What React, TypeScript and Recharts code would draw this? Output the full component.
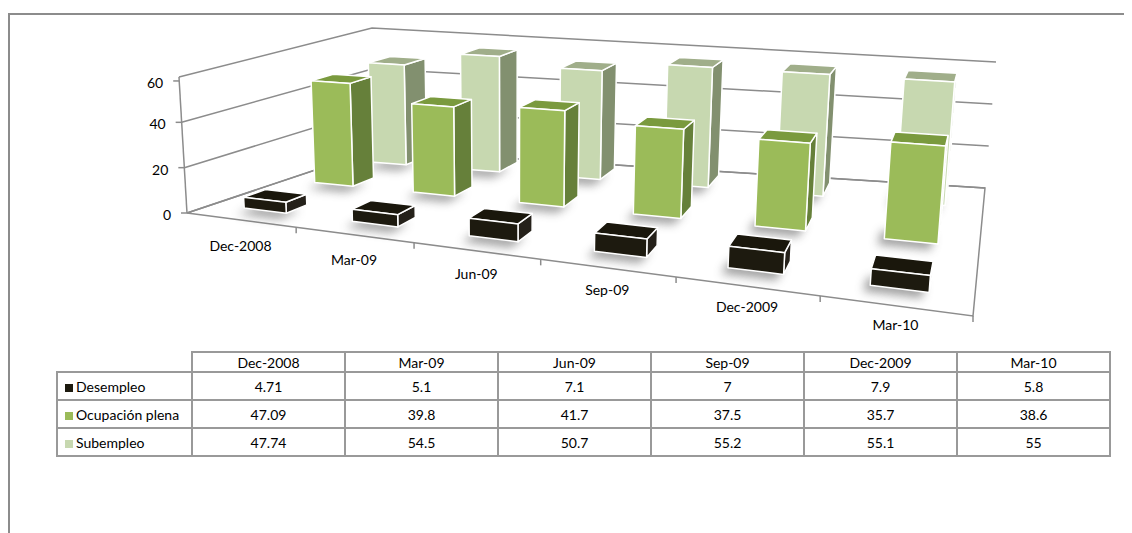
import React from 'react'
import { BarChart, Bar, XAxis, YAxis, CartesianGrid } from 'recharts'

const CATS = ['Dec-2008', 'Mar-09', 'Jun-09', 'Sep-09', 'Dec-2009', 'Mar-10']
const DESEMPLEO = [4.71, 5.1, 7.1, 7, 7.9, 5.8]
const OCUPACION = [47.09, 39.8, 41.7, 37.5, 35.7, 38.6]
const SUBEMPLEO = [47.74, 54.5, 50.7, 55.2, 55.1, 55]
const Y_TICKS = [0, 20, 40, 60]

const SERIES = [
  { key: 'des', name: 'Desempleo', values: DESEMPLEO, front: '#1d1a0f', side: '#25211a', top: '#1a170c', swatch: '#1d1a0f' },
  { key: 'ocu', name: 'Ocupación plena', values: OCUPACION, front: '#9bbb59', side: '#66803a', top: '#7a9a3e', swatch: '#9bbb59' },
  { key: 'sub', name: 'Subempleo', values: SUBEMPLEO, front: '#c7d8b0', side: '#82906f', top: '#a0ae8a', swatch: '#c7d8b0' },
]

const data = CATS.map((cat, i) => ({
  cat,
  des: DESEMPLEO[i],
  ocu: OCUPACION[i],
  sub: SUBEMPLEO[i],
}))

// chart box and the flat plot area recharts works in
const CW = 1110
const CH = 340
const YW = 40
const XH = 30
const PL = YW
const PT = 0
const PW = CW - YW
const PH = CH - XH
const PB = PT + PH

// 3d floor (svg coords): front-left, front-right, back-right, back-left
const FL = [179, 205]
const FR = [965, 308]
const BR = [977, 180]
const BL = [367, 142]
// pixel height of the full 0..60 range at each floor corner
const HFL = 136
const HFR = 185
const HBL = 122
const HBR = 126
const VX = 501 // verticals lean toward this x
const VD = 5460
const WARP = 0.25
const ROW_W = [0.14, 0.53, 0.84]
const DEPTH = 0.12

const LINE = '#8c8c8c'

function proj(u: number, w: number, f: number): [number, number] {
  const a = (u + WARP * u * u) / (1 + WARP)
  const x = FL[0] + a * (FR[0] - FL[0]) + w * (BL[0] - FL[0]) + a * w * (FL[0] - FR[0] + BR[0] - BL[0])
  const y = FL[1] + a * (FR[1] - FL[1]) + w * (BL[1] - FL[1]) + a * w * (FL[1] - FR[1] + BR[1] - BL[1])
  const hpx = (1 - w) * ((1 - a) * HFL + a * HFR) + w * ((1 - a) * HBL + a * HBR)
  const h = f * hpx
  return [x + (h * (x - VX)) / VD, y - h]
}

const pts = (list: [number, number][]) => list.map((p) => p[0].toFixed(1) + ',' + p[1].toFixed(1)).join(' ')

function makeBox(row: number) {
  const s = SERIES[row]
  return (p: any) => {
    const { x, width, height, index } = p
    if (x == null || width == null) return <g />
    const u0 = (x - PL) / PW
    const u1 = (x + width - PL) / PW
    const f = Math.max(0, height || 0) / PH
    const wf = ROW_W[row]
    const wb = wf + DEPTH
    const fbl = proj(u0, wf, 0)
    const fbr = proj(u1, wf, 0)
    const bbr = proj(u1, wb, 0)
    const bbl = proj(u0, wb, 0)
    const ftl = proj(u0, wf, f)
    const ftr = proj(u1, wf, f)
    const btr = proj(u1, wb, f)
    const btl = proj(u0, wb, f)
    const sh = [fbl, fbr, bbr, bbl].map((q) => [q[0] - 7, q[1] + 6] as [number, number])
    const fid = `soft-${row}-${index}`
    return (
      <g>
        <defs>
          <filter id={fid} x="-60%" y="-100%" width="220%" height="300%">
            <feGaussianBlur stdDeviation="5" />
          </filter>
        </defs>
        <polygon points={pts(sh)} fill="#555" opacity={0.55} filter={`url(#${fid})`} />
        <polygon points={pts([fbr, bbr, btr, ftr])} fill={s.side} stroke="#fff" strokeWidth={1.5} strokeLinejoin="round" />
        <polygon points={pts([ftl, ftr, btr, btl])} fill={s.top} stroke="#fff" strokeWidth={1.5} strokeLinejoin="round" />
        <polygon points={pts([fbl, fbr, ftr, ftl])} fill={s.front} stroke="#fff" strokeWidth={1.5} strokeLinejoin="round" />
      </g>
    )
  }
}

const WallLine = (p: any) => {
  const f = (PB - p.y1) / PH
  const a = proj(0, 0, f)
  const b = proj(0, 1, f)
  const c = proj(1, 1, f)
  return <polyline key={'wall-' + p.index} points={pts([a, b, c])} fill="none" stroke={LINE} strokeWidth={1.5} />
}

const CatTick = (p: any) => {
  const { x, payload } = p
  const u = (x - PL) / PW
  const [X, Y] = proj(u, 0, 0)
  const [bx, by] = proj(u + 0.5 / CATS.length, 0, 0)
  return (
    <g>
      <line x1={bx} y1={by} x2={bx} y2={by + 6} stroke={LINE} strokeWidth={1.5} />
      <text x={X} y={Y + 32 - 9 * u} textAnchor="middle" fontFamily="Lato" fontSize={14} fill="#000">
        {payload.value}
      </text>
    </g>
  )
}

const ValTick = (p: any) => {
  const { y, payload } = p
  const f = (PB - y) / PH
  const [X, Y] = proj(0, 0, f)
  return (
    <g>
      <line x1={X - 6} y1={Y} x2={X} y2={Y} stroke={LINE} strokeWidth={1.5} />
      <text x={X - 16} y={Y + 7} textAnchor="end" fontFamily="Lato" fontSize={14} fill="#000">
        {payload.value}
      </text>
    </g>
  )
}

function Floor() {
  const a = proj(0, 0, 0)
  const b = proj(1, 0, 0)
  const c = proj(1, 1, 0)
  const d = proj(0, 1, 0)
  const top = proj(0, 0, 1)
  return (
    <svg width={CW} height={CH} style={{ position: 'absolute', left: 0, top: 0 }}>
      <polygon points={pts([a, b, c, d])} fill="#fff" stroke={LINE} strokeWidth={1.5} />
      <line x1={a[0]} y1={a[1]} x2={top[0]} y2={top[1]} stroke={LINE} strokeWidth={1.5} />
    </svg>
  )
}

const cell: React.CSSProperties = {
  border: '2px solid #999',
  padding: 0,
  textAlign: 'center',
  height: 26,
}

function DataTable() {
  return (
    <table
      style={{
        position: 'absolute',
        left: 48,
        top: 343,
        borderCollapse: 'collapse',
        tableLayout: 'fixed',
        width: 1053,
        fontFamily: 'Lato',
        fontSize: 14,
        color: '#000',
      }}
    >
      <colgroup>
        <col style={{ width: 135 }} />
        {CATS.map((c) => (
          <col key={c} style={{ width: 153 }} />
        ))}
      </colgroup>
      <tbody>
        <tr>
          <td style={{ border: 'none', height: 17 }} />
          {CATS.map((c) => (
            <td key={c} style={{ ...cell, height: 17 }}>
              {c}
            </td>
          ))}
        </tr>
        {SERIES.map((s) => (
          <tr key={s.key}>
            <td style={{ ...cell, textAlign: 'left', paddingLeft: 7, whiteSpace: 'nowrap' }}>
              <span style={{ display: 'inline-block', width: 8, height: 8, background: s.swatch, marginRight: 3 }} />
              {s.name}
            </td>
            {s.values.map((v, i) => (
              <td key={i} style={cell}>
                {String(v)}
              </td>
            ))}
          </tr>
        ))}
      </tbody>
    </table>
  )
}

export default function App() {
  return (
    <div style={{ position: 'relative', width: 1124, height: 525, overflow: 'hidden', background: '#fff' }}>
      <div
        style={{
          position: 'absolute',
          left: 0,
          top: 5,
          width: 1140,
          height: 560,
          border: '2px solid #8c8c8c',
        }}
      />
      <Floor />
      <div style={{ position: 'absolute', left: 0, top: 0 }}>
        <BarChart width={CW} height={CH} data={data} margin={{ top: 0, right: 0, bottom: 0, left: 0 }} barCategoryGap="30%">
          <CartesianGrid xAxisId="front" vertical={false} horizontal={WallLine} />
          <XAxis xAxisId="front" dataKey="cat" height={XH} interval={0} axisLine={false} tickLine={false} tick={<CatTick />} />
          <XAxis xAxisId="mid" dataKey="cat" hide />
          <XAxis xAxisId="back" dataKey="cat" hide />
          <YAxis width={YW} domain={[0, 60]} ticks={Y_TICKS} axisLine={false} tickLine={false} tick={<ValTick />} />
          <Bar xAxisId="back" dataKey="sub" name="Subempleo" shape={makeBox(2)} isAnimationActive={false} />
          <Bar xAxisId="mid" dataKey="ocu" name="Ocupación plena" shape={makeBox(1)} isAnimationActive={false} />
          <Bar xAxisId="front" dataKey="des" name="Desempleo" shape={makeBox(0)} isAnimationActive={false} />
        </BarChart>
      </div>
      <DataTable />
    </div>
  )
}
